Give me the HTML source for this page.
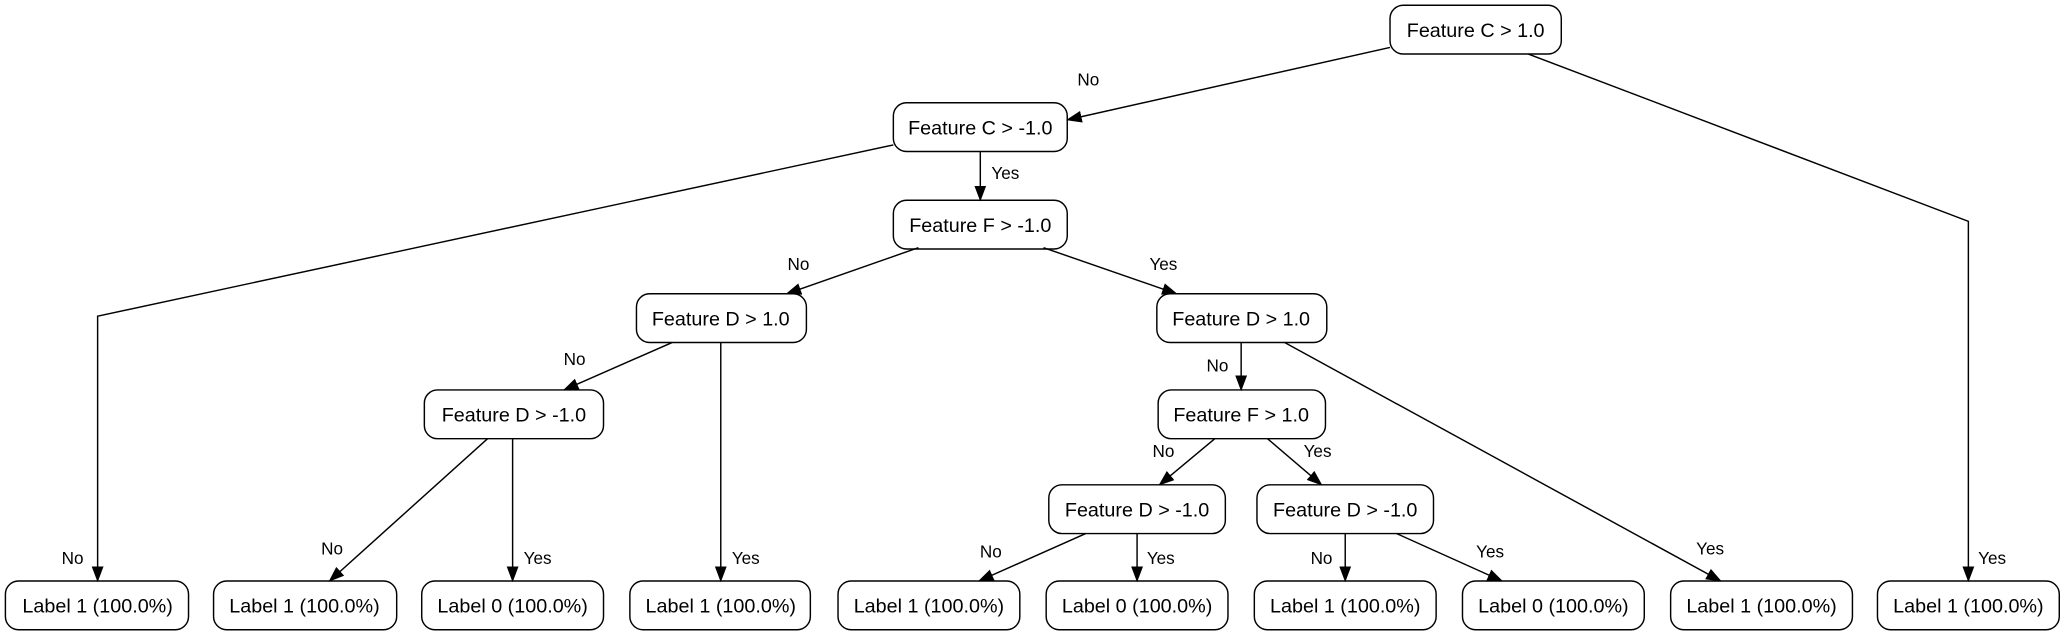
<!DOCTYPE html>
<html><head><meta charset="utf-8"><style>
html,body{margin:0;padding:0;background:#fff;}
svg{display:block;}
text{font-family:"Liberation Sans",Arial,sans-serif;fill:#000;}
</style></head><body>
<svg width="2066" height="635" viewBox="0 0 1568 482" xmlns="http://www.w3.org/2000/svg">
<defs>
<marker id="a" markerWidth="12" markerHeight="9" refX="11" refY="4.5" orient="auto" markerUnits="userSpaceOnUse">
<path d="M0,0 L12,4.5 L0,9 z" fill="#000"/>
</marker>
</defs>
<g fill="#fff" stroke="#000" stroke-width="1.1">
<rect x="1055" y="4" width="130" height="37" rx="10"/>
<rect x="678" y="78" width="132" height="37" rx="10"/>
<rect x="678" y="152" width="132" height="37" rx="10"/>
<rect x="483" y="223" width="129" height="37" rx="10"/>
<rect x="878" y="223" width="129" height="37" rx="10"/>
<rect x="322" y="296" width="136" height="37" rx="10"/>
<rect x="879" y="296" width="127" height="37" rx="10"/>
<rect x="796" y="368" width="134" height="37" rx="10"/>
<rect x="954" y="368" width="134" height="37" rx="10"/>
<rect x="4" y="441" width="139" height="37" rx="10"/>
<rect x="162" y="441" width="139" height="37" rx="10"/>
<rect x="320" y="441" width="138" height="37" rx="10"/>
<rect x="478" y="441" width="137" height="37" rx="10"/>
<rect x="636" y="441" width="138" height="37" rx="10"/>
<rect x="794" y="441" width="138" height="37" rx="10"/>
<rect x="952" y="441" width="138" height="37" rx="10"/>
<rect x="1110" y="441" width="138" height="37" rx="10"/>
<rect x="1268" y="441" width="138" height="37" rx="10"/>
<rect x="1425" y="441" width="138" height="37" rx="10"/>
</g>
<g fill="none" stroke="#000" stroke-width="1.1">
<polyline points="1055,36 810,91" marker-end="url(#a)"/>
<polyline points="1160,41 1494,168 1494,441" marker-end="url(#a)"/>
<polyline points="678,110 74,240 74,441" marker-end="url(#a)"/>
<polyline points="744,115 744,152" marker-end="url(#a)"/>
<polyline points="697,188 597,223" marker-end="url(#a)"/>
<polyline points="792,188 893,223" marker-end="url(#a)"/>
<polyline points="510,260 428,296" marker-end="url(#a)"/>
<polyline points="547,260 547,441" marker-end="url(#a)"/>
<polyline points="370,333 250,441" marker-end="url(#a)"/>
<polyline points="389,333 389,441" marker-end="url(#a)"/>
<polyline points="942,260 942,296" marker-end="url(#a)"/>
<polyline points="975,260 1306,441" marker-end="url(#a)"/>
<polyline points="922,333 880,368" marker-end="url(#a)"/>
<polyline points="962,333 1003,368" marker-end="url(#a)"/>
<polyline points="824,405 743,441" marker-end="url(#a)"/>
<polyline points="863,405 863,441" marker-end="url(#a)"/>
<polyline points="1021,405 1021,441" marker-end="url(#a)"/>
<polyline points="1060,405 1140,441" marker-end="url(#a)"/>
</g>
<g font-size="15" text-anchor="middle">
<text x="1120" y="28">Feature C &gt; 1.0</text>
<text x="744" y="102">Feature C &gt; -1.0</text>
<text x="744" y="176">Feature F &gt; -1.0</text>
<text x="547" y="247">Feature D &gt; 1.0</text>
<text x="942" y="247">Feature D &gt; 1.0</text>
<text x="390" y="320">Feature D &gt; -1.0</text>
<text x="942" y="320">Feature F &gt; 1.0</text>
<text x="863" y="392">Feature D &gt; -1.0</text>
<text x="1021" y="392">Feature D &gt; -1.0</text>
<text x="74" y="465">Label 1 (100.0%)</text>
<text x="231" y="465">Label 1 (100.0%)</text>
<text x="389" y="465">Label 0 (100.0%)</text>
<text x="547" y="465">Label 1 (100.0%)</text>
<text x="705" y="465">Label 1 (100.0%)</text>
<text x="863" y="465">Label 0 (100.0%)</text>
<text x="1021" y="465">Label 1 (100.0%)</text>
<text x="1179" y="465">Label 0 (100.0%)</text>
<text x="1337" y="465">Label 1 (100.0%)</text>
<text x="1494" y="465">Label 1 (100.0%)</text>
</g>
<g font-size="13" text-anchor="middle">
<text x="826" y="65">No</text>
<text x="1512" y="428">Yes</text>
<text x="55" y="428">No</text>
<text x="763" y="136">Yes</text>
<text x="606" y="205">No</text>
<text x="883" y="205">Yes</text>
<text x="436" y="277">No</text>
<text x="566" y="428">Yes</text>
<text x="252" y="421">No</text>
<text x="408" y="428">Yes</text>
<text x="924" y="282">No</text>
<text x="1298" y="421">Yes</text>
<text x="883" y="347">No</text>
<text x="1000" y="347">Yes</text>
<text x="752" y="423">No</text>
<text x="881" y="428">Yes</text>
<text x="1003" y="428">No</text>
<text x="1131" y="423">Yes</text>
</g>
</svg>
</body></html>
